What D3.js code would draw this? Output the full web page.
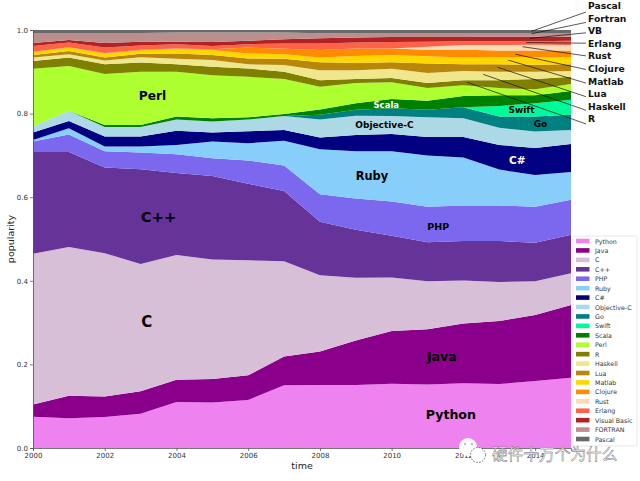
<!DOCTYPE html>
<html>
<head>
<meta charset="utf-8">
<script src="https://cdn.jsdelivr.net/npm/d3@7"></script>
<style>
  html, body { margin: 0; padding: 0; background: #fff; }
  svg { display: block; font-family: "DejaVu Sans", sans-serif; }
</style>
</head>
<body>
<svg id="chart" width="640" height="481"></svg>
<script>
const years = d3.range(2000, 2016);
const yTicks = [0, 0.2, 0.4, 0.6, 0.8, 1];
const xTicks = [2000, 2002, 2004, 2006, 2008, 2010, 2012, 2014];

// upper edge of each band (the chart is stacked to 1)
const python  = [.075,.071,.074,.082,.110,.109,.115,.150,.151,.151,.154,.152,.155,.153,.160,.168];
const java    = [.104,.125,.123,.136,.163,.165,.174,.219,.231,.257,.280,.284,.298,.304,.318,.342];
const c       = [.465,.481,.466,.440,.462,.451,.449,.447,.413,.407,.408,.399,.401,.397,.399,.418];
const cpp     = [.708,.708,.671,.667,.658,.651,.632,.615,.541,.522,.508,.492,.495,.495,.491,.510];
const php     = [.733,.750,.710,.707,.703,.693,.688,.676,.607,.597,.590,.577,.580,.580,.577,.594];
const ruby    = [.737,.765,.721,.721,.725,.733,.729,.735,.715,.710,.710,.700,.695,.666,.653,.660];
const csharp  = [.755,.782,.745,.745,.759,.755,.758,.761,.743,.749,.751,.744,.744,.725,.718,.727];
const objc    = [.769,.807,.768,.768,.786,.781,.786,.794,.786,.795,.794,.791,.789,.766,.757,.761];
const go      = [.769,.807,.768,.768,.786,.781,.786,.794,.797,.809,.813,.809,.815,.793,.793,.797];
const swift   = [.769,.807,.768,.768,.786,.781,.786,.794,.797,.809,.813,.809,.815,.818,.825,.833];
const scala   = [.769,.807,.773,.773,.793,.789,.791,.799,.810,.825,.835,.831,.842,.844,.844,.854];
const perl    = [.907,.914,.895,.900,.900,.892,.888,.883,.864,.873,.875,.861,.868,.861,.858,.871];
const r       = [.926,.934,.918,.922,.918,.912,.908,.900,.880,.883,.885,.873,.880,.880,.883,.888];
const haskell = [.934,.942,.927,.935,.931,.928,.918,.916,.904,.904,.907,.897,.902,.900,.900,.902];
const lua     = [.940,.950,.934,.943,.944,.940,.932,.931,.923,.921,.923,.920,.918,.918,.917,.918];
const matlab  = [.947,.958,.944,.951,.955,.952,.944,.942,.934,.938,.940,.937,.934,.935,.935,.935];
const clojure = [.948,.959,.945,.953,.956,.954,.958,.955,.952,.956,.956,.953,.953,.951,.951,.951];
const rust    = [.948,.959,.945,.953,.956,.954,.958,.955,.952,.956,.956,.960,.964,.964,.965,.964];
const erlang  = [.962,.970,.958,.963,.966,.962,.966,.968,.968,.970,.971,.972,.973,.973,.973,.974];
const vb      = [.969,.976,.969,.972,.972,.971,.974,.978,.980,.982,.983,.983,.983,.984,.984,.984];
const fortran = [.993,.993,.993,.993,.994,.994,.994,.994,.992,.993,.993,.993,.993,.993,.993,.993];
const pascal  = [1,1,1,1,1,1,1,1,1,1,1,1,1,1,1,1];

const names = ["Python","Java","C","C++","PHP","Ruby","C#","Objective-C","Go","Swift","Scala","Perl","R","Haskell","Lua","Matlab","Clojure","Rust","Erlang","Visual Basic","FORTRAN","Pascal"];
const tops = [python,java,c,cpp,php,ruby,csharp,objc,go,swift,scala,perl,r,haskell,lua,matlab,clojure,rust,erlang,vb,fortran,pascal];
const colors = ["#ee82ee","#8b008b","#d8bfd8","#663399","#7b68ee","#87cefa","#000080","#add8e6","#008080","#00fa9a","#008000","#adff2f","#808000","#f0e68c","#b8860b","#ffd700","#ff8c00","#ffdab9","#ff6347","#b22222","#bc8f8f","#696969"];

// big labels sitting on the bands: name, year, value, font size, colour
const bandLabels = [
  ["Perl", 2003.33, .843, 12.2, "#000"],
  ["C++", 2003.50, .553, 14.8, "#000"],
  ["C", 2003.17, .302, 15, "#000"],
  ["Java", 2011.40, .220, 12.6, "#000"],
  ["Python", 2011.65, .079, 12.6, "#000"],
  ["Ruby", 2009.45, .650, 11.4, "#000"],
  ["PHP", 2011.30, .530, 9.5, "#000"],
  ["C#", 2013.50, .688, 10.5, "#fff"],
  ["Objective-C", 2009.80, .772, 9, "#000"],
  ["Scala", 2009.85, .821, 8.5, "#fff"],
  ["Swift", 2013.62, .808, 9, "#000"],
  ["Go", 2014.15, .775, 9, "#000"]
];

// callouts on the thin bands: name, year and value the line points at
const callouts = [
  ["Pascal", 2013.90, .997],
  ["Fortran", 2013.90, .991],
  ["VB", 2013.85, .980],
  ["Erlang", 2013.75, .970],
  ["Rust", 2013.65, .960],
  ["Clojure", 2013.45, .942],
  ["Matlab", 2013.25, .928],
  ["Lua", 2012.95, .911],
  ["Haskell", 2012.55, .894],
  ["R", 2012.10, .875]
];

const svg = d3.select("#chart");
const x = d3.scaleLinear().domain([2000, 2015]).range([33, 571]);
const y = d3.scaleLinear().domain([0, 1]).range([448, 30]);

const area = d3.area()
  .x((d, i) => x(years[i]))
  .y0(d => y(d[0]))
  .y1(d => y(d[1]));

const bands = tops.map((top, k) =>
  top.map((v, i) => [k === 0 ? 0 : tops[k - 1][i], v]));

svg.append("g").selectAll("path")
  .data(bands)
  .join("path")
  .attr("d", area)
  .attr("fill", (d, k) => colors[k]);

const axisColor = "#555";
const xAxis = svg.append("g")
  .attr("transform", "translate(0,448)")
  .call(d3.axisBottom(x).tickValues(xTicks).tickFormat(d3.format("d")).tickSize(3).tickPadding(2));
const yAxis = svg.append("g")
  .attr("transform", "translate(33,0)")
  .call(d3.axisLeft(y).tickValues(yTicks).tickFormat(d3.format(".1f")).tickSize(3).tickPadding(2));

[xAxis, yAxis].forEach(a => {
  a.attr("font-family", "DejaVu Sans").attr("font-size", 7);
  a.selectAll("path, line").attr("stroke", axisColor).attr("stroke-width", 0.8);
  a.selectAll("text").attr("fill", "#333");
});

svg.append("text").attr("x", 302).attr("y", 469)
  .attr("text-anchor", "middle").attr("font-size", 9.5).attr("fill", "#222").text("time");
svg.append("text").attr("transform", "translate(14,239) rotate(-90)")
  .attr("text-anchor", "middle").attr("font-size", 9.5).attr("fill", "#222").text("popularity");

svg.append("g").selectAll("text")
  .data(bandLabels)
  .join("text")
  .attr("x", d => x(d[1]))
  .attr("y", d => y(d[2]))
  .attr("text-anchor", "middle")
  .attr("dominant-baseline", "central")
  .attr("font-weight", "bold")
  .attr("font-size", d => d[3])
  .attr("fill", d => d[4])
  .text(d => d[0]);

// callout lines fan out to a fixed column of names on the right
const calloutY = i => 5.5 + i * 12.6;
svg.append("g").selectAll("line")
  .data(callouts)
  .join("line")
  .attr("x1", d => x(d[1]))
  .attr("y1", d => y(d[2]))
  .attr("x2", 586)
  .attr("y2", (d, i) => calloutY(i) + (i < 4 ? 6.5 - i * 2.2 : i - 4))
  .attr("stroke", "#111")
  .attr("stroke-width", 0.7);
svg.append("g").selectAll("text")
  .data(callouts)
  .join("text")
  .attr("x", 588)
  .attr("y", (d, i) => calloutY(i))
  .attr("dominant-baseline", "central")
  .attr("font-weight", "bold")
  .attr("font-size", 9.2)
  .attr("fill", "#111")
  .text(d => d[0]);

// legend
const legend = svg.append("g");
legend.append("rect")
  .attr("x", 573).attr("y", 236).attr("width", 64).attr("height", 210).attr("rx", 1.5)
  .attr("fill", "#fff").attr("fill-opacity", 0.8)
  .attr("stroke", "#ddd").attr("stroke-width", 0.7);
const rows = legend.selectAll("g")
  .data(names)
  .join("g")
  .attr("transform", (d, i) => `translate(576,${241 + i * 9.43})`);
rows.append("rect")
  .attr("y", -2.3).attr("width", 13.5).attr("height", 4.6)
  .attr("fill", (d, i) => colors[i]);
rows.append("text")
  .attr("x", 19).attr("dominant-baseline", "central")
  .attr("font-size", 6.3).attr("fill", "#333")
  .text(d => d);

// watermark
const mark = svg.append("g");
mark.append("circle").attr("cx", 468).attr("cy", 447).attr("r", 9).attr("fill", "#fff");
mark.append("circle").attr("cx", 465).attr("cy", 444).attr("r", 1.2).attr("fill", "#e8a0e8");
mark.append("circle").attr("cx", 472).attr("cy", 444).attr("r", 1.2).attr("fill", "#e8a0e8");
mark.append("circle").attr("cx", 478).attr("cy", 455).attr("r", 7.5)
  .attr("fill", "#fff").attr("stroke", "#444").attr("stroke-width", 0.8).attr("stroke-dasharray", "1.5 1.5");
mark.append("text")
  .attr("x", 492).attr("y", 453)
  .attr("dominant-baseline", "central")
  .attr("font-family", "Noto Sans CJK SC")
  .attr("font-size", 15.7)
  .attr("fill", "#f8f8f8")
  .attr("stroke", "#666")
  .attr("stroke-width", 0.4)
  .text("硬件十万个为什么");
</script>
</body>
</html>
